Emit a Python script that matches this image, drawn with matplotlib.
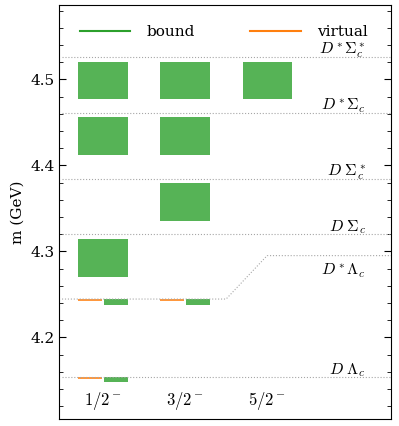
import numpy as np
import matplotlib
matplotlib.use("Agg")
import matplotlib.pyplot as plt
from matplotlib.ticker import MultipleLocator

plt.rcParams['font.family'] = 'serif'
plt.rcParams['font.serif'] = ['DejaVu Serif']
plt.rcParams['mathtext.fontset'] = 'cm'
plt.rcParams['font.size'] = 11

# spin-parity columns
jp_labels = [r'$1/2^-$', r'$3/2^-$', r'$5/2^-$']
jp_x = [1, 2, 3]

# thresholds (GeV)
thr_names = [r'$D^*\Sigma_c^*$', r'$D^*\Sigma_c$', r'$D\ \Sigma_c^*$', r'$D\ \Sigma_c$', r'$D\ \Lambda_c$']
thr_vals = [4.5265, 4.4612, 4.3845, 4.3206, 4.1535]
dsl_name = r'$D^*\Lambda_c$'
dsl_low = 4.2445
dsl_val = 4.2950

# bound state bands: column, low, high
bound_x = [1, 1, 1, 2, 2, 2, 3]
bound_lo = [4.4767, 4.4120, 4.2707, 4.4767, 4.4120, 4.3357, 4.4767]
bound_hi = [4.5200, 4.4558, 4.3148, 4.5200, 4.4558, 4.3795, 4.5200]

# near-threshold states (half bars): bound right, virtual left
near_x = [1, 1, 2]
near_bound_lo = [4.2378, 4.1477, 4.2378]
near_bound_hi = [4.2445, 4.1535, 4.2445]
near_virt_lo = [4.2423, 4.1512, 4.2423]
near_virt_hi = [4.2445, 4.1535, 4.2445]

fig = plt.figure(figsize=(3.99, 4.26), dpi=100)
ax = fig.add_axes([0.1486, 0.0164, 0.8314, 0.9718])

green = 'tab:green'
orange = 'tab:orange'

for x, lo, hi in zip(bound_x, bound_lo, bound_hi):
    ax.bar(x, hi - lo, bottom=lo, width=0.6, color=green, alpha=0.8, linewidth=0)
for x, lo, hi in zip(near_x, near_bound_lo, near_bound_hi):
    ax.bar(x + 0.155, hi - lo, bottom=lo, width=0.29, color=green, alpha=0.8, linewidth=0)
for x, lo, hi in zip(near_x, near_virt_lo, near_virt_hi):
    ax.bar(x - 0.155, hi - lo, bottom=lo, width=0.29, color=orange, alpha=0.8, linewidth=0)

# threshold lines
for name, v in zip(thr_names, thr_vals):
    ax.plot([0.5, 4.51], [v, v], ls=':', color='0.65', lw=0.8)
    ax.text(4.2, v + 0.003, name, ha='right', va='baseline', fontsize=11.5)
ax.plot([0.5, 2.5, 3.0, 4.51], [dsl_low, dsl_low, dsl_val, dsl_val], ls=':', color='0.65', lw=0.8)
ax.text(4.2, 4.2717, dsl_name, ha='right', va='baseline', fontsize=11.5)

for x, lab in zip(jp_x, jp_labels):
    ax.text(x, 4.126, lab, ha='center', va='center', fontsize=12)

ax.plot([], [], color=green, label='bound')
ax.plot([], [], color=orange, label='virtual')
ax.legend(ncol=2, frameon=False, loc='center left', bbox_to_anchor=(0.02, 0.935),
          handlelength=3.3, handletextpad=1.1, columnspacing=3.6, fontsize=11)

ax.set_xlim(0.467, 4.51)
ax.set_ylim(4.105, 4.5864)
ax.set_xticks([])
ax.yaxis.set_major_locator(MultipleLocator(0.1))
ax.yaxis.set_minor_locator(MultipleLocator(0.02))
ax.tick_params(axis='y', which='both', direction='in', left=True, right=True)
ax.tick_params(axis='y', which='major', length=5)
ax.tick_params(axis='y', which='minor', length=3)
ax.set_ylabel('m (GeV)')

fig.savefig('out.png', dpi=100)
